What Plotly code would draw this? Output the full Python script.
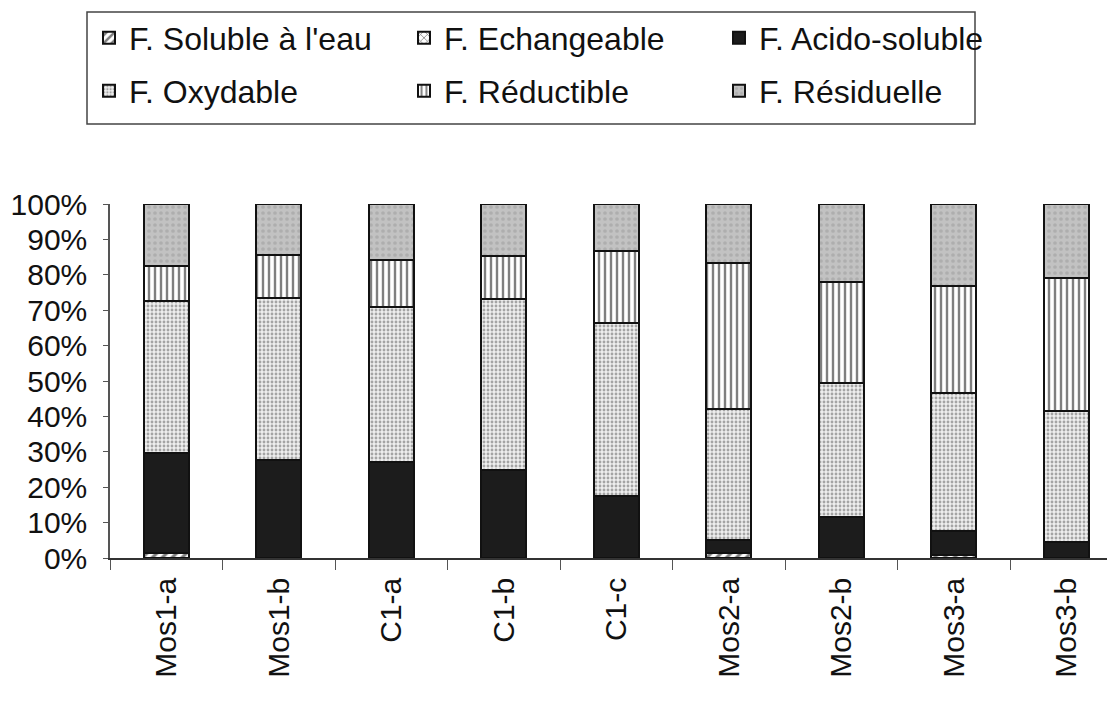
import plotly.graph_objects as go

categories = ["Mos1-a", "Mos1-b", "C1-a", "C1-b", "C1-c", "Mos2-a", "Mos2-b", "Mos3-a", "Mos3-b"]
soluble = [1.4, 0, 0, 0, 0, 1.4, 0, 0.8, 0]
echangeable = [0, 0, 0, 0, 0, 0, 0, 0, 0]
acido = [28.2, 27.7, 27.1, 25.0, 17.6, 3.8, 11.5, 6.8, 4.5]
oxydable = [43.1, 45.7, 43.7, 48.2, 48.9, 37.0, 38.0, 39.0, 37.1]
reductible = [9.8, 12.2, 13.5, 12.2, 20.3, 41.0, 28.5, 30.1, 37.5]
residuelle = [17.5, 14.4, 15.7, 14.6, 13.2, 16.8, 22.0, 23.3, 20.9]
y_ticks = [0, 10, 20, 30, 40, 50, 60, 70, 80, 90, 100]
y_ticktext = [f"{v}%" for v in y_ticks]

FONT = "Liberation Sans, Arial, sans-serif"

series = [
    ("F. Soluble à l'eau", soluble, dict(color="white", pattern=dict(shape="/", fgcolor="black", bgcolor="white", size=7, solidity=0.45)), "legend"),
    ("F. Echangeable", echangeable, dict(color="white", pattern=dict(shape="x", fgcolor="black", bgcolor="white", size=6, solidity=0.3)), "legend"),
    ("F. Acido-soluble", acido, dict(color="#1c1c1c"), "legend"),
    ("F. Oxydable", oxydable, dict(color="white", pattern=dict(shape=".", fgcolor="#5a5a5a", bgcolor="#eeeeee", size=4, solidity=0.4)), "legend2"),
    ("F. Réductible", reductible, dict(color="white", pattern=dict(shape="|", fgcolor="black", bgcolor="white", size=6, solidity=0.4)), "legend2"),
    ("F. Résiduelle", residuelle, dict(color="#b4b4b4", pattern=dict(shape=".", fgcolor="#9a9a9a", bgcolor="#c2c2c2", size=6, solidity=0.3)), "legend2"),
]

fig = go.Figure()
for name, vals, marker, lg in series:
    m = dict(marker)
    m["line"] = dict(color="#111111", width=2)
    fig.add_trace(go.Bar(x=categories, y=vals, name=name, marker=m, width=0.4, legend=lg))

# page has an 8px body margin; figure pixel = page pixel - 8
OFF = 8
W, H = 1107, 694
L, T = 110 - OFF, 204 - OFF
B = H - (558 - OFF)
R = 0
pw, ph = W - L - R, H - T - B
CAT_PX = 112.5

def px_x(x):
    return (x - OFF - L) / pw

def px_y(y):
    return (H - B - (y - OFF)) / ph

legend_common = dict(
    orientation="h", xanchor="left", yanchor="middle",
    font=dict(family=FONT, size=32, color="#111111"),
    bgcolor="rgba(0,0,0,0)", borderwidth=0,
    entrywidth=270, entrywidthmode="pixels", itemwidth=30,
    traceorder="normal",
)

fig.update_layout(
    width=W, height=H,
    margin=dict(l=L, r=R, t=T, b=B, autoexpand=False),
    paper_bgcolor="white", plot_bgcolor="white",
    barmode="stack",
    font=dict(family=FONT, size=30, color="#111111"),
    legend=dict(legend_common, x=px_x(89), y=px_y(38)),
    legend2=dict(legend_common, x=px_x(89), y=px_y(91)),
    xaxis=dict(
        range=[-0.5, -0.5 + pw / CAT_PX],
        showline=True, linecolor="#333333", linewidth=1.5,
        ticks="outside", tickson="boundaries", ticklen=10, tickcolor="#555555", tickwidth=1,
        tickangle=-90, tickfont=dict(family=FONT, size=30, color="#111111"),
        ticklabelstandoff=6,
        showgrid=False, zeroline=False,
    ),
    yaxis=dict(
        range=[0, 100], tickmode="array", tickvals=y_ticks, ticktext=y_ticktext,
        showline=True, linecolor="#555555", linewidth=1.5,
        ticks="outside", ticklen=5, tickcolor="#555555",
        tickfont=dict(family=FONT, size=30, color="#111111"),
        ticklabelstandoff=10,
        showgrid=False, zeroline=False,
    ),
    shapes=[dict(type="rect", xref="paper", yref="paper",
                 x0=px_x(87), x1=px_x(975), y0=px_y(124), y1=px_y(12),
                 line=dict(color="#444444", width=1.5), fillcolor="rgba(0,0,0,0)")],
)

fig.write_html("out.html")
